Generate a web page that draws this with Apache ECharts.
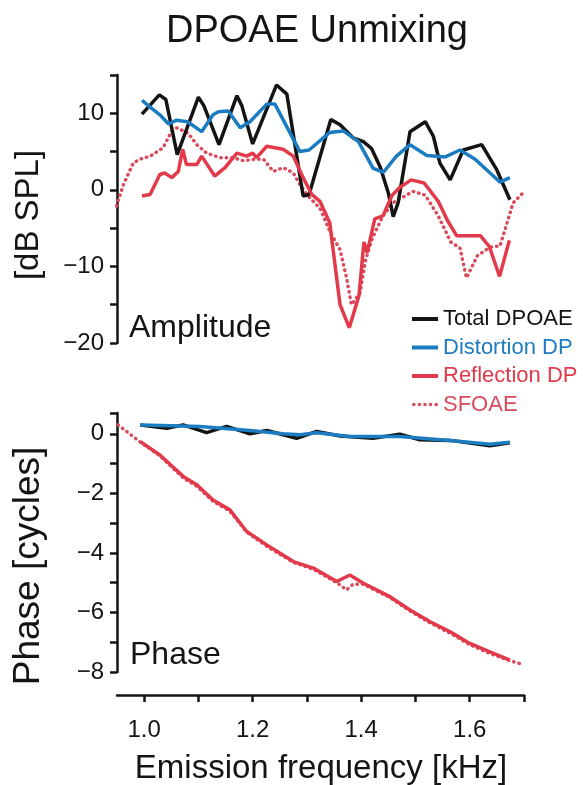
<!DOCTYPE html>
<html><head><meta charset="utf-8">
<script src="https://cdn.jsdelivr.net/npm/echarts@6/dist/echarts.min.js"></script>
<style>html,body{margin:0;padding:0;background:#fff}#c{width:583px;height:785px}</style>
</head><body><div id="c"></div>
<script>
// ---------- Amplitude panel data (frequency kHz, level dB SPL) ----------
const ampTotalF  = [0.996,1.028,1.040,1.061,1.100,1.110,1.138,1.171,1.180,1.200,1.244,1.263,1.293,1.304,1.344,1.361,1.385,1.404,1.419,1.435,1.450,1.459,1.468,1.490,1.518,1.533,1.545,1.564,1.588,1.622,1.650,1.674];
const ampTotalDb = [9.9,12.4,11.8,4.6,12.1,11.0,5.9,12.3,11.0,6.0,13.7,12.5,-0.8,-0.6,9.2,8.5,6.8,6.3,5.4,3.0,-0.4,-3.5,-1.7,7.6,8.9,7.0,3.5,1.3,5.2,5.9,2.6,-1.3];

const ampDistF  = [0.996,1.011,1.029,1.045,1.060,1.080,1.106,1.127,1.137,1.155,1.177,1.195,1.226,1.241,1.287,1.304,1.342,1.367,1.395,1.422,1.441,1.465,1.490,1.521,1.555,1.582,1.610,1.656,1.674];
const ampDistDb = [11.7,10.8,9.8,8.6,9.1,8.9,7.6,9.8,10.2,10.3,8.1,8.9,11.2,11.2,5.0,5.2,7.5,7.7,6.3,2.8,2.3,4.4,5.9,4.5,4.3,5.2,4.0,1.0,1.6];

const ampReflF  = [0.996,1.011,1.029,1.038,1.051,1.063,1.071,1.078,1.097,1.106,1.130,1.149,1.171,1.189,1.200,1.207,1.226,1.256,1.275,1.293,1.309,1.324,1.342,1.361,1.378,1.396,1.405,1.411,1.425,1.440,1.457,1.471,1.492,1.516,1.542,1.559,1.576,1.620,1.636,1.655,1.673];
const ampReflDb = [-0.8,-0.6,2.0,2.2,1.6,2.4,5.3,3.3,3.3,4.4,1.8,2.9,4.8,4.4,4.8,4.2,5.7,5.3,4.4,1.6,-0.6,-1.5,-4.3,-15.0,-18.0,-13.8,-6.8,-8.2,-3.8,-3.4,-0.7,0.3,1.3,0.9,-1.5,-4.0,-6.0,-6.0,-7.4,-11.3,-6.6];

const ampSfoaeF  = [0.949,0.962,0.980,0.992,1.011,1.035,1.051,1.060,1.081,1.097,1.115,1.140,1.164,1.183,1.204,1.220,1.238,1.256,1.275,1.287,1.302,1.324,1.342,1.361,1.373,1.382,1.398,1.408,1.420,1.440,1.462,1.496,1.518,1.542,1.565,1.582,1.594,1.614,1.637,1.656,1.668,1.680,1.698];
const ampSfoaeDb = [-2.1,0.7,3.5,4.0,4.4,5.5,7.7,8.1,7.4,5.9,4.8,4.2,4.2,3.8,4.0,4.0,2.4,2.9,2.2,0.7,-0.8,-2.4,-5.4,-7.8,-11.5,-15.0,-13.4,-9.2,-6.4,-3.4,-1.5,-0.2,-0.7,-3.4,-6.8,-7.6,-11.5,-8.6,-7.5,-7.3,-4.5,-1.7,-0.4];

// ---------- Phase panel data (frequency kHz, phase cycles) ----------
const phTotalF  = [0.993,1.042,1.072,1.115,1.152,1.195,1.226,1.281,1.318,1.361,1.422,1.471,1.508,1.564,1.637,1.674];
const phTotalCy = [0.30,0.19,0.30,0.04,0.25,0.00,0.11,-0.15,0.08,-0.07,-0.15,-0.01,-0.20,-0.22,-0.40,-0.30];

const phDistF  = [0.993,1.103,1.195,1.256,1.287,1.318,1.379,1.471,1.564,1.637,1.674];
const phDistCy = [0.30,0.25,0.11,0.00,-0.03,0.04,-0.09,-0.09,-0.22,-0.35,-0.28];

const phReflF  = [0.993,1.029,1.072,1.097,1.127,1.158,1.189,1.226,1.275,1.312,1.355,1.379,1.404,1.453,1.490,1.527,1.564,1.600,1.637,1.674];
const phReflCy = [-0.26,-0.71,-1.43,-1.71,-2.22,-2.55,-3.28,-3.73,-4.29,-4.51,-4.96,-4.74,-5.02,-5.47,-5.92,-6.31,-6.65,-7.04,-7.32,-7.60];

const phSfoaeF  = [0.952,0.993,1.029,1.072,1.097,1.127,1.158,1.189,1.226,1.275,1.312,1.355,1.373,1.385,1.404,1.453,1.490,1.527,1.564,1.600,1.637,1.674,1.693];
const phSfoaeCy = [0.30,-0.28,-0.74,-1.48,-1.76,-2.27,-2.60,-3.30,-3.78,-4.32,-4.55,-5.00,-5.24,-5.05,-5.05,-5.50,-5.95,-6.35,-6.70,-7.08,-7.38,-7.62,-7.72];

// ---------- Axis ticks / labels ----------
const freqTicks = [1.0,1.1,1.2,1.3,1.4,1.5,1.6,1.7];
const freqLabels = [1.0,1.2,1.4,1.6];
const ampTicks = [-20,-15,-10,-5,0,5,10,15];
const ampLabels = [-20,-10,0,10];
const phTicks = [-8,-7,-6,-5,-4,-3,-2,-1,0,0.7];
const phLabels = [-8,-6,-4,-2,0];

const names = ['Total DPOAE','Distortion DP','Reflection DP','SFOAE'];
const colors = ['#141414','#1c7cc2','#e2394b','#d94a5c'];

const zip = (a,b) => a.map((v,i)=>[v,b[i]]);
const FONT = '"Liberation Sans", Arial, Helvetica, sans-serif';
const INK = '#141414';
const minus = v => String(v).replace('-', '\u2212');

// legend glyphs: solid bar, and a row of round dots for the dotted series
const BAR_ICON = 'rect';
const DOT_ICON = 'path://' + [2,7.5,13,18.5,24].map(c =>
  'M' + (c-1.8) + ',2a1.8,1.8 0 1,0 3.6,0a1.8,1.8 0 1,0 -3.6,0z').join('');

function yAxisCfg(grid, min, max, ticks, labels){
  return {
    gridIndex: grid, type:'value', min:min, max:max,
    axisLine:{show:true, onZero:false, lineStyle:{color:INK, width:2.5}},
    axisTick:{show:true, length:7, lineStyle:{color:INK, width:2.5}, customValues:ticks},
    axisLabel:{customValues:labels, formatter:minus, fontSize:24, color:INK, fontFamily:FONT, margin:13},
    splitLine:{show:false}
  };
}

function lineSeries(i, name, data, xi, yi, dotted){
  return {
    type:'line', name:name, xAxisIndex:xi, yAxisIndex:yi, data:data,
    symbol:'none', smooth:false, z: dotted ? 2 : (i===2 ? 4 : 3),
    lineStyle: dotted
      ? {color:colors[i], width:3.4, type:[0.5,5], cap:'round'}
      : {color:colors[i], width:3.5},
    itemStyle:{color:colors[i]}
  };
}

const chart = echarts.init(document.getElementById('c'), null, {renderer:'canvas'});
chart.setOption({
  animation:false,
  backgroundColor:'#ffffff',
  grid:[
    {left:117, top:75, width:407, height:268},
    {left:117, top:413, width:407, height:259}
  ],
  xAxis:[
    {gridIndex:0, type:'value', min:0.95, max:1.70, show:false},
    {gridIndex:1, type:'value', min:0.95, max:1.70, position:'bottom', offset:23,
     axisLine:{show:true, onZero:false, lineStyle:{color:INK, width:2.5}},
     axisTick:{show:true, length:7, lineStyle:{color:INK, width:2.5}, customValues:freqTicks},
     axisLabel:{customValues:freqLabels, formatter:v=>Number(v).toFixed(1), fontSize:24, color:INK, fontFamily:FONT, margin:23},
     splitLine:{show:false}}
  ],
  yAxis:[
    yAxisCfg(0, -20, 15, ampTicks, ampLabels),
    yAxisCfg(1, -8, 0.7, phTicks, phLabels)
  ],
  legend:{
    orient:'vertical', left:412, top:308, padding:0, itemWidth:26, itemHeight:4, itemGap:6.5,
    data:names.map((n,i)=>({name:n, icon: i===3 ? DOT_ICON : BAR_ICON, textStyle:{color:colors[i]}})),
    itemStyle:{borderWidth:0},
    textStyle:{fontSize:22, fontFamily:FONT, lineHeight:22}
  },
  series:[
    lineSeries(0, names[0], zip(ampTotalF, ampTotalDb), 0, 0, false),
    lineSeries(1, names[1], zip(ampDistF, ampDistDb), 0, 0, false),
    lineSeries(3, names[3], zip(ampSfoaeF, ampSfoaeDb), 0, 0, true),
    lineSeries(2, names[2], zip(ampReflF, ampReflDb), 0, 0, false),
    lineSeries(0, names[0], zip(phTotalF, phTotalCy), 1, 1, false),
    lineSeries(1, names[1], zip(phDistF, phDistCy), 1, 1, false),
    lineSeries(3, names[3], zip(phSfoaeF, phSfoaeCy), 1, 1, true),
    lineSeries(2, names[2], zip(phReflF, phReflCy), 1, 1, false)
  ],
  graphic:[
    {type:'text', x:317, y:32, style:{text:'DPOAE Unmixing', fill:INK, fontSize:38, fontFamily:FONT, align:'center', verticalAlign:'middle'}},
    {type:'text', x:29, y:215, rotation:Math.PI/2, style:{text:'[dB SPL]', fill:INK, fontSize:33, fontFamily:FONT, align:'center', verticalAlign:'middle'}},
    {type:'text', x:29, y:566, rotation:Math.PI/2, style:{text:'Phase [cycles]', fill:INK, fontSize:37, fontFamily:FONT, align:'center', verticalAlign:'middle'}},
    {type:'text', x:129, y:328, style:{text:'Amplitude', fill:INK, fontSize:32, fontFamily:FONT, align:'left', verticalAlign:'middle'}},
    {type:'text', x:130, y:655, style:{text:'Phase', fill:INK, fontSize:32, fontFamily:FONT, align:'left', verticalAlign:'middle'}},
    {type:'text', x:321, y:769, style:{text:'Emission frequency [kHz]', fill:INK, fontSize:33, fontFamily:FONT, align:'center', verticalAlign:'middle'}}
  ]
});
</script>
</body></html>
